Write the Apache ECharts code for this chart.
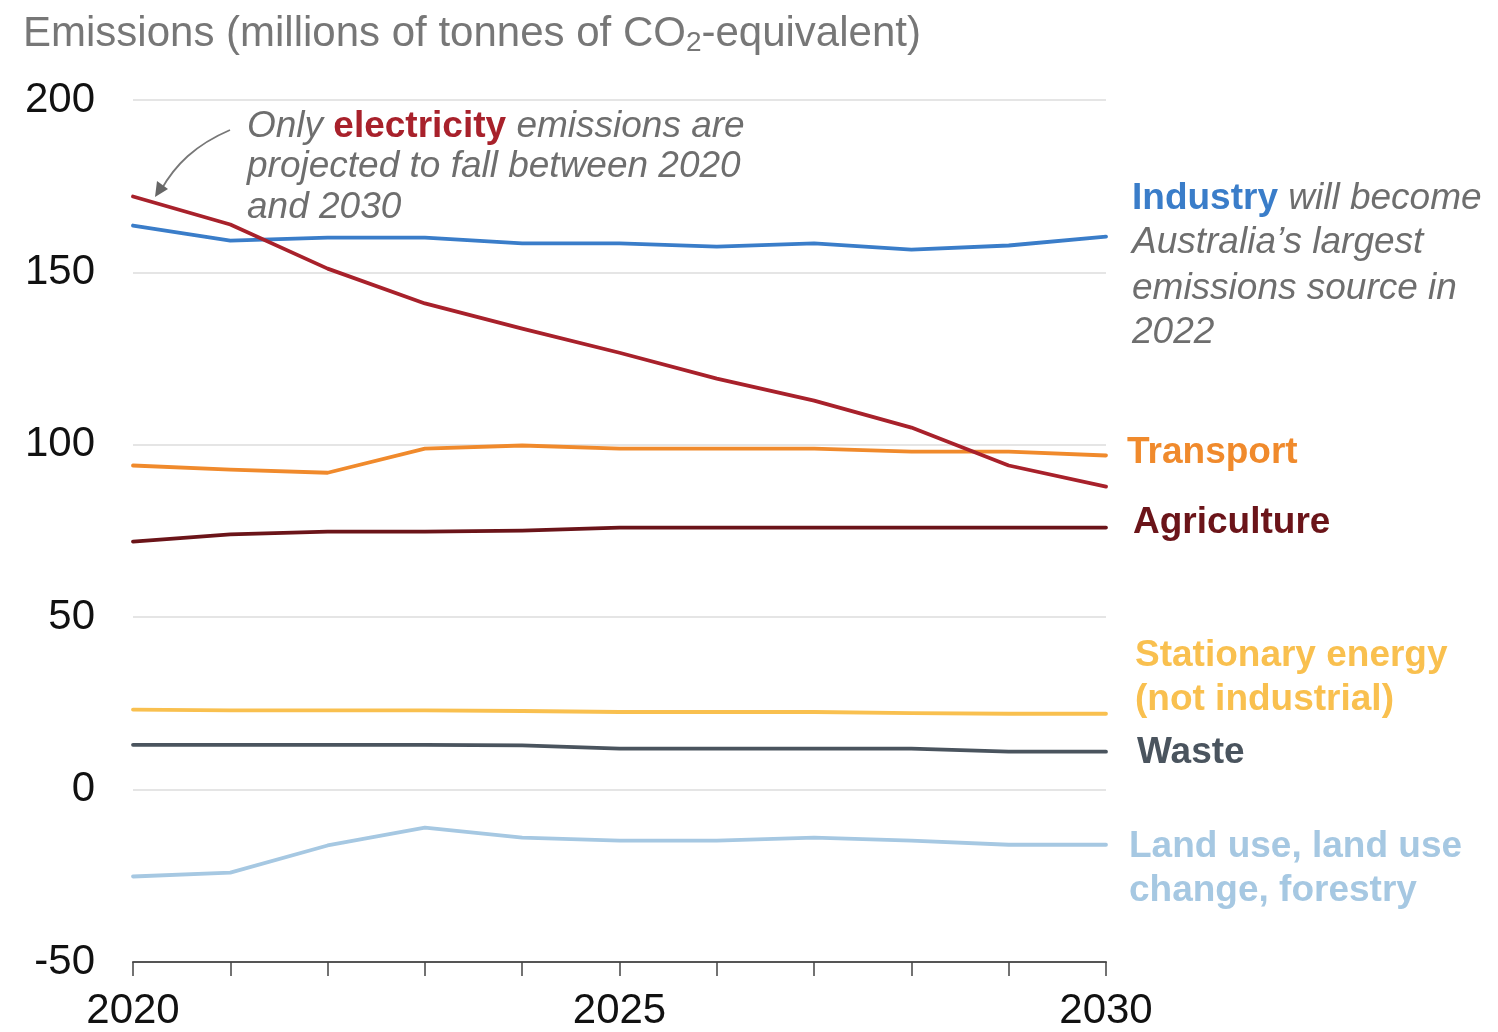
<!DOCTYPE html>
<html><head><meta charset="utf-8">
<script src="https://cdn.jsdelivr.net/npm/echarts@6/dist/echarts.min.js"></script>
<style>html,body{margin:0;padding:0;background:#fff}#c{width:1498px;height:1032px}</style>
</head><body><div id="c"></div>
<script>
const years = [2020,2021,2022,2023,2024,2025,2026,2027,2028,2029,2030];
const industry    = [163.6,159.2,160.1,160.1,158.4,158.4,157.5,158.4,156.6,157.8,160.4];
const electricity = [172.0,163.9,151.1,141.0,133.7,126.7,119.2,112.8,105.0,94.0,87.9];
const transport   = [94.0,92.8,91.9,98.9,99.8,98.9,98.9,98.9,98.0,98.0,96.9];
const agriculture = [71.9,74.0,74.8,74.8,75.1,76.0,76.0,76.0,76.0,76.0,76.0];
const stationary  = [23.2,23.0,23.0,23.0,22.8,22.5,22.5,22.5,22.2,22.0,22.0];
const waste       = [13.0,13.0,13.0,13.0,12.8,11.9,11.9,11.9,11.9,11.0,11.0];
const landuse     = [-25.2,-24.1,-16.2,-11.0,-13.9,-14.8,-14.8,-13.9,-14.8,-16.0,-16.0];
const yTicks = [-50,0,50,100,150,200];
const xLabels = [2020,2025,2030];

const C = {industry:'#3a7dc9',electricity:'#a8212b',transport:'#f08a2c',agriculture:'#6b1419',
  stationary:'#f9c04f',waste:'#4a545e',landuse:'#a6c8e2',note:'#6e6e6e'};

function pairs(v){return years.map((y,i)=>[y,v[i]]);}
function line(name,v,color){return {name,type:'line',data:pairs(v),showSymbol:false,
  lineStyle:{width:3.8,color,cap:'round',join:'round'},itemStyle:{color},z:3,silent:true};}

const chart = echarts.init(document.getElementById('c'));
const baseFont = '"Liberation Sans", Arial, sans-serif';
const FS = 37;
const it = {fontFamily:baseFont,fontStyle:'italic',fontSize:FS,fill:C.note};
const bold = (c)=>({fontFamily:baseFont,fontWeight:'bold',fontSize:FS,fill:c});

function txt(x,y,text,style){return {type:'text',x:x,y:y+2,style:Object.assign({text,textVerticalAlign:'middle',verticalAlign:'middle'},style),z:10};}
function richText(x,y,parts){
  return {type:'text',x:x,y:y+2,style:{text:parts.map(p=>'{'+p[0]+'|'+p[1]+'}').join(''),
    rich:{i:{fontFamily:baseFont,fontStyle:'italic',fontSize:FS,fill:C.note,color:C.note},
          e:{fontFamily:baseFont,fontWeight:'bold',fontSize:FS,fill:C.electricity,color:C.electricity},
          n:{fontFamily:baseFont,fontWeight:'bold',fontSize:FS,fill:C.industry,color:C.industry}},
    verticalAlign:'middle',textVerticalAlign:'middle'},z:10};
}

chart.setOption({
  animation:false,
  grid:{left:133,right:392,top:100,bottom:70,containLabel:false},
  title:{text:'{a|Emissions (millions of tonnes of CO}{s|2}{a|-equivalent)}',left:18,top:6,
    textStyle:{rich:{a:{fontFamily:baseFont,fontWeight:'normal',fontSize:42,color:'#777'},
      s:{fontFamily:baseFont,fontWeight:'normal',fontSize:28,color:'#777',padding:[18,0,0,0]}}}},
  xAxis:{type:'value',min:2020,max:2030,interval:1,
    axisLine:{show:true,onZero:false,lineStyle:{color:'#555',width:2}},
    axisTick:{show:true,length:14,lineStyle:{color:'#444',width:1.5}},
    splitLine:{show:false},
    axisLabel:{margin:28,fontFamily:baseFont,fontSize:42,color:'#111',
      formatter:v=>xLabels.includes(v)?String(v):''}},
  yAxis:{type:'value',min:-50,max:200,interval:50,
    axisLine:{show:false},axisTick:{show:false},
    splitLine:{show:true,lineStyle:{color:'#dcdcdc',width:1.5}},
    axisLabel:{margin:38,fontFamily:baseFont,fontSize:42,color:'#111',
      formatter:v=>yTicks.includes(v)?String(v):''}},
  series:[
    line('Land use',landuse,C.landuse),
    line('Waste',waste,C.waste),
    line('Stationary',stationary,C.stationary),
    line('Agriculture',agriculture,C.agriculture),
    line('Transport',transport,C.transport),
    line('Industry',industry,C.industry),
    line('Electricity',electricity,C.electricity)
  ],
  graphic:[
    richText(247,125,[['i','Only '],['e','electricity'],['i',' emissions are']]),
    txt(247,165,'projected to fall between 2020',it),
    txt(247,206,'and 2030',it),
    {type:'bezierCurve',shape:{x1:230,y1:130,cpx1:195,cpy1:145,cpx2:175,cpy2:165,x2:161,y2:190},
      style:{stroke:'#777',lineWidth:1.8,fill:null},z:10},
    {type:'polygon',shape:{points:[[155,197],[157,181],[168,189]]},style:{fill:'#666'},z:10},
    richText(1132,197,[['n','Industry'],['i',' will become']]),
    txt(1132,241,'Australia\u2019s largest',it),
    txt(1132,287,'emissions source in',it),
    txt(1132,331,'2022',it),
    txt(1127,451,'Transport',bold(C.transport)),
    txt(1133,521,'Agriculture',bold(C.agriculture)),
    txt(1135,654,'Stationary energy',bold(C.stationary)),
    txt(1135,698,'(not industrial)',bold(C.stationary)),
    txt(1137,751,'Waste',bold(C.waste)),
    txt(1129,845,'Land use, land use',bold(C.landuse)),
    txt(1129,889,'change, forestry',bold(C.landuse))
  ]
});
</script></body></html>
